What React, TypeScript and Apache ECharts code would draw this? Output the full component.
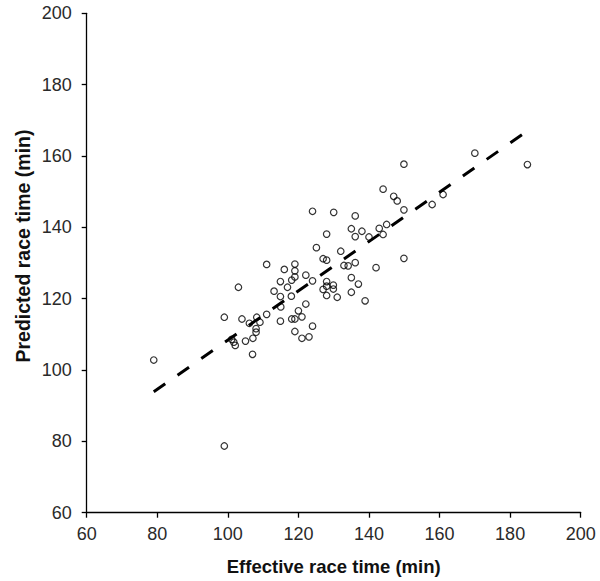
import React, { useEffect, useRef } from "react";
import * as echarts from "echarts";

const effectiveTime = [
  170.0, 184.9, 149.9, 144.0, 147.0, 148.0, 161.0, 157.9, 149.9, 124.0,
  130.0, 136.1, 145.0, 142.9, 135.0, 138.0, 144.0, 140.0, 136.1, 128.0,
  125.1, 132.0, 127.0, 128.0, 149.9, 136.1, 132.9, 134.1, 142.0, 111.0,
  116.0, 119.0, 119.0, 119.0, 118.1, 114.9, 122.1, 124.0, 135.0, 137.0,
  128.0, 128.0, 129.9, 129.9, 127.0, 116.9, 113.1, 114.9, 118.0, 128.0,
  131.0, 135.0, 138.9, 122.1, 120.0, 115.0, 111.0, 108.2, 103.0, 99.0,
  104.0, 106.1, 109.1, 114.9, 118.1, 119.0, 121.0, 124.0, 119.0, 121.0,
  123.0, 108.0, 108.0, 107.1, 105.0, 101.1, 102.1, 107.0, 79.0, 99.0,
  101.7,
];
const predictedTime = [
  160.8, 157.6, 157.7, 150.7, 148.7, 147.4, 149.2, 146.4, 144.9, 144.5,
  144.2, 143.2, 140.8, 139.7, 139.6, 138.9, 138.0, 137.3, 137.4, 138.1,
  134.3, 133.3, 131.2, 130.8, 131.3, 130.1, 129.3, 129.2, 128.7, 129.6,
  128.2, 129.7, 127.8, 126.1, 125.2, 124.8, 126.6, 125.0, 125.9, 124.1,
  124.8, 123.5, 123.8, 122.7, 122.6, 123.2, 122.1, 120.6, 120.7, 120.9,
  120.4, 121.8, 119.4, 118.5, 116.6, 117.7, 115.6, 114.8, 123.2, 114.8,
  114.3, 113.1, 113.4, 113.7, 114.3, 114.3, 114.9, 112.3, 110.8, 108.9,
  109.3, 111.6, 110.6, 108.9, 108.1, 108.6, 106.9, 104.4, 102.8, 78.7,
  107.8,
];
const trendX = [79.0, 185.0];
const trendY = [93.9, 167.1];
const axisTicks = [60, 80, 100, 120, 140, 160, 180, 200];

const xTitle = "Effective race time (min)";
const yTitle = "Predicted race time (min)";

export default function App() {
  const ref = useRef<HTMLDivElement>(null);
  useEffect(() => {
    if (!ref.current) return;
    const chart = echarts.init(ref.current, null, { renderer: "svg" });
    const font = "'Liberation Sans', Arial, Helvetica, sans-serif";
    const axisCommon = {
      type: "value" as const,
      min: axisTicks[0],
      max: axisTicks[axisTicks.length - 1],
      interval: 20,
      splitLine: { show: false },
      axisLine: { show: true, onZero: false, lineStyle: { color: "#000", width: 1.3 } },
      axisTick: { show: true, inside: false, length: 5, lineStyle: { color: "#000", width: 1.3 } },
    };
    chart.setOption({
      animation: false,
      backgroundColor: "#fff",
      grid: { left: 86.7, right: 19.3, top: 13.3, bottom: 68.3, containLabel: false },
      xAxis: {
        ...axisCommon,
        axisLabel: { color: "#2a2a2a", fontSize: 18, fontFamily: font, margin: 12 },
        name: xTitle,
        nameLocation: "middle",
        nameGap: 44,
        nameTextStyle: { color: "#111", fontSize: 18.5, fontWeight: "bold", fontFamily: font },
      },
      yAxis: {
        ...axisCommon,
        axisLabel: { color: "#2a2a2a", fontSize: 18, fontFamily: font, margin: 15 },
      },
      graphic: [
        {
          type: "text",
          x: 23,
          y: 246,
          rotation: Math.PI / 2,
          style: {
            text: yTitle,
            fill: "#111",
            font: `bold 19.5px ${font}`,
            textAlign: "center",
            textVerticalAlign: "middle",
          },
        },
      ],
      series: [
        {
          type: "line",
          data: trendX.map((x, i) => [x, trendY[i]]),
          showSymbol: false,
          symbol: "none",
          lineStyle: { color: "#000", width: 3, type: [14, 15], cap: "butt" },
          z: 1,
          silent: true,
        },
        {
          type: "scatter",
          data: effectiveTime.map((x, i) => [x, predictedTime[i]]),
          symbol: "circle",
          symbolSize: 6.5,
          itemStyle: { color: "rgba(255,255,255,0)", borderColor: "#000", borderWidth: 1.2 },
          z: 2,
        },
      ],
    });
    return () => chart.dispose();
  }, []);
  return <div ref={ref} style={{ width: 600, height: 581, position: "fixed", left: 0, top: 0 }} />;
}
